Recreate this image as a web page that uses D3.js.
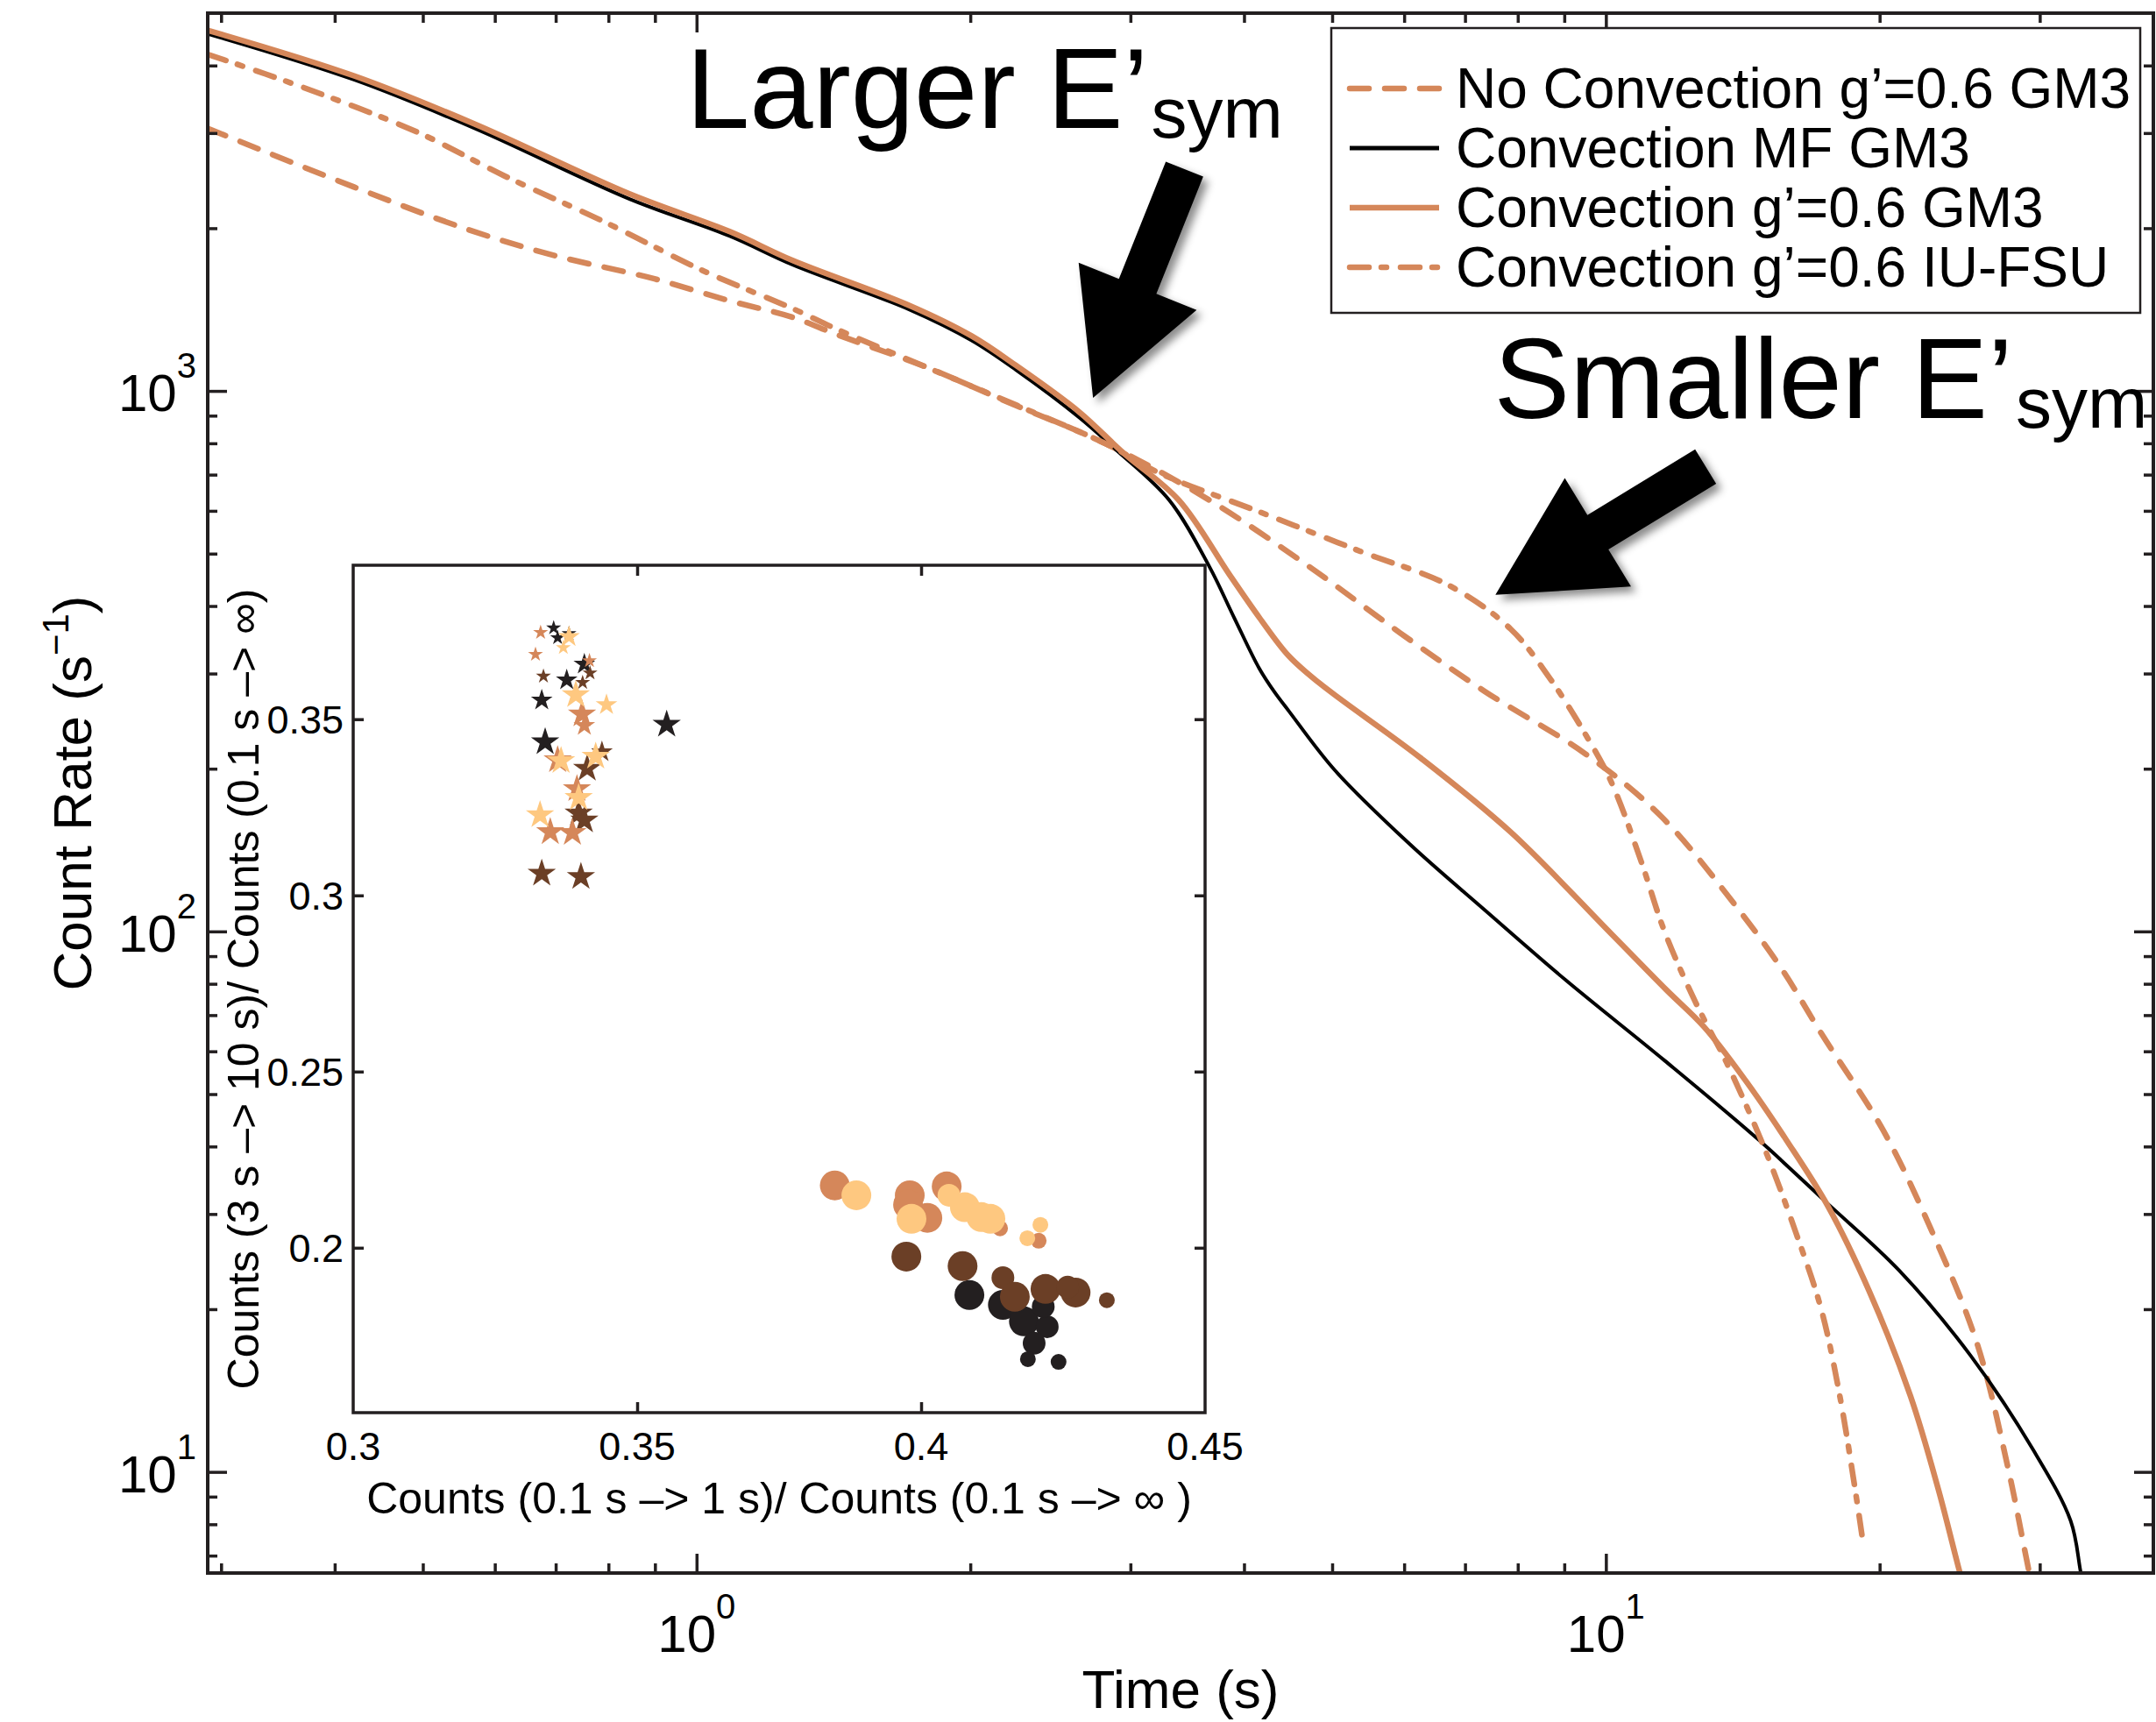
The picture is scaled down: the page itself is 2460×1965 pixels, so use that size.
<!DOCTYPE html>
<html>
<head>
<meta charset="utf-8">
<script src="https://cdn.jsdelivr.net/npm/d3@7"></script>
<style>
  body { margin: 0; background: #fff; }
  svg { display: block; }
  text { font-family: "Liberation Sans", Arial, Helvetica, sans-serif; fill: #000; }
</style>
</head>
<body>
<svg id="chart" width="2460" height="1965"></svg>
<script>
// ---------------- Light curves (time in s, count rate in 1/s) ----------------
const tNoConv = [0.29, 0.42, 0.562, 0.6965, 0.899, 1.088, 1.276, 1.429, 1.791, 2.201, 2.84, 3.664, 4.718, 5.94, 7.364, 9.504, 11.5, 13.91, 15.61, 17.25, 20.19, 22.76, 25.59, 27.72, 29.17, 29.6];
const rateNoConv = [3061, 2384, 1986, 1782, 1612, 1468, 1368, 1270, 1106, 953, 793.6, 628, 473, 356.6, 277.8, 212.8, 163.3, 111.2, 85.2, 64.8, 42.8, 28.2, 17.3, 10.07, 6.59, 5.9];

const tConvMF = [0.29, 0.42, 0.57, 0.844, 1.088, 1.276, 1.713, 2.005, 2.245, 2.634, 2.891, 3.31, 3.664, 3.9, 4.157, 4.317, 4.482, 5.03, 6.086, 7.364, 9.03, 11.6, 14.71, 17.52, 21.01, 25.19, 29.49, 32.44, 33.24, 33.6];
const rateConvMF = [4578, 3765, 3061, 2265, 1934, 1711, 1415, 1241, 1094, 894, 779, 628, 473, 381, 306.6, 277.8, 255.5, 199, 145, 109.4, 81.3, 57.7, 41.2, 31.4, 23.6, 16.4, 11.0, 8.12, 6.59, 5.9];

const tConvGM3 = [0.29, 0.42, 0.57, 0.844, 1.088, 1.276, 1.713, 2.005, 2.245, 2.634, 2.949, 3.391, 3.856, 4.157, 4.482, 4.845, 6.25, 7.856, 10.13, 11.65, 12.83, 14.24, 15.81, 17.55, 19.48, 21.63, 23.2, 24.43, 24.9];
const rateConvGM3 = [4648, 3828, 3118, 2314, 1971, 1743, 1440, 1265, 1115, 915, 767, 628, 457, 381, 323, 287.7, 209.6, 152.7, 99.1, 78, 66.5, 53, 41, 31, 21.6, 13.8, 9.3, 6.64, 5.9];

const tConvIUFSU = [0.29, 0.3688, 0.4947, 0.6141, 0.7923, 1.018, 1.276, 1.429, 1.791, 2.245, 2.84, 3.223, 4.157, 5.364, 6.742, 7.856, 8.698, 9.504, 10.13, 10.93, 11.6, 12.57, 13.58, 14.94, 16.18, 17.25, 18.07, 18.81, 19.19];
const rateConvIUFSU = [4195, 3647, 3004, 2502, 2054, 1667, 1420, 1299, 1106, 942, 793.6, 705.7, 597.6, 505.3, 435.5, 362.7, 292.2, 231, 189.5, 135, 100, 73.5, 57.1, 39.7, 27.7, 20.0, 13.9, 9.21, 7.34];

const seriesNames = ["No Convection g\u2019=0.6 GM3", "Convection MF GM3", "Convection g\u2019=0.6 GM3", "Convection g\u2019=0.6 IU-FSU"];
const seriesTimes = [tNoConv, tConvMF, tConvGM3, tConvIUFSU];
const seriesRates = [rateNoConv, rateConvMF, rateConvGM3, rateConvIUFSU];

// Axis limits and ticks
const timeDomain = [0.29, 40];
const rateDomain = [6.5, 5000];
const timeMajor = [1, 10];
const timeMinor = [0.3, 0.4, 0.5, 0.6, 0.7, 0.8, 0.9, 2, 3, 4, 5, 6, 7, 8, 9, 20, 30];
const rateMajor = [10, 100, 1000];
const rateMinor = [7, 8, 9, 20, 30, 40, 50, 60, 70, 80, 90, 200, 300, 400, 500, 600, 700, 800, 900, 2000, 3000, 4000];

// ---------------- Inset: early vs late count fractions ----------------
const starEarly = [0.3330, 0.3353, 0.3360, 0.3380, 0.3380, 0.3370, 0.3321, 0.3335, 0.3376, 0.3407, 0.3416, 0.3417, 0.3404, 0.3332, 0.3392, 0.3446, 0.3403, 0.3407, 0.3552, 0.3338, 0.3360, 0.3366, 0.3438, 0.3427, 0.3412, 0.3394, 0.3397, 0.3397, 0.3407, 0.3329, 0.3347, 0.3386, 0.3332, 0.3401];
const starLate = [0.3746, 0.3759, 0.3731, 0.3743, 0.3734, 0.3703, 0.3684, 0.3622, 0.3611, 0.3656, 0.3666, 0.3631, 0.3604, 0.3554, 0.3569, 0.3541, 0.3514, 0.3482, 0.3485, 0.3435, 0.3384, 0.3382, 0.3407, 0.3394, 0.3360, 0.3302, 0.3277, 0.3233, 0.3213, 0.3228, 0.3180, 0.3178, 0.3062, 0.3053];
const starGroup = [2, 0, 0, 0, 3, 3, 2, 1, 0, 0, 2, 1, 1, 0, 3, 3, 2, 2, 0, 0, 2, 3, 1, 3, 1, 2, 3, 1, 1, 3, 2, 2, 1, 1];
const starClass = [1, 1, 1, 1, 2, 1, 1, 1, 2, 2, 1, 1, 1, 2, 3, 2, 3, 2, 3, 3, 3, 3, 2, 3, 3, 3, 3, 3, 3, 3, 3, 3, 3, 3];

const dotEarly = [0.3848, 0.3886, 0.3980, 0.3977, 0.3983, 0.4011, 0.4045, 0.4049, 0.4077, 0.4106, 0.4122, 0.4139, 0.4210, 0.4187, 0.4207, 0.3974, 0.4073, 0.4085, 0.4144, 0.4144, 0.4165, 0.4181, 0.4222, 0.4219, 0.4215, 0.4272, 0.4258, 0.4327, 0.4199, 0.4188, 0.4242];
const dotLate = [0.2177, 0.2149, 0.2149, 0.2122, 0.2082, 0.2085, 0.2174, 0.2149, 0.2115, 0.2087, 0.2082, 0.2055, 0.2065, 0.2027, 0.2020, 0.1975, 0.1948, 0.1866, 0.1915, 0.1838, 0.1861, 0.1791, 0.1776, 0.1883, 0.1833, 0.1873, 0.1888, 0.1851, 0.1729, 0.1684, 0.1676];
const dotGroup = [2, 3, 2, 2, 3, 2, 2, 3, 3, 3, 3, 2, 3, 3, 2, 1, 1, 0, 1, 0, 1, 0, 0, 1, 0, 1, 1, 1, 0, 0, 0];
const dotClass = [3, 3, 3, 3, 3, 3, 3, 2, 3, 3, 3, 1, 1, 1, 1, 3, 3, 3, 2, 3, 3, 3, 2, 3, 2, 3, 2, 1, 2, 1, 1];

const insetEarlyDomain = [0.3, 0.45];
const insetLateDomain = [0.1532, 0.3937];
const insetEarlyTicks = [0.3, 0.35, 0.4, 0.45];
const insetLateTicks = [0.2, 0.25, 0.3, 0.35];

// Annotation anchors (time, rate)
const noteText = ["Larger E\u2019", "Smaller E\u2019"];
const noteAnchor = [[0.974, 3061], [7.53, 891]];
const arrowTip = [[2.729, 971], [7.56, 419.5]];
const arrowAngle = [-68.2, -31.4];

// ---------------- Styles ----------------
const ORANGE = "#d5875a";
const groupColor = ["#231f20", "#6b3f26", "#d5875a", "#fec880"];
const seriesColor = [ORANGE, "#000000", ORANGE, ORANGE];
const seriesWidth = [6.5, 4, 6.5, 6.5];
const seriesDash = ["22,18", null, null, "22,14,6,16"];
const drawOrder = [0, 1, 2, 3];

const svg = d3.select("#chart");
const plot = { left: 237, right: 2457, top: 15, bottom: 1795 };
const x = d3.scaleLog().domain(timeDomain).range([plot.left, plot.right]);
const y = d3.scaleLog().domain(rateDomain).range([plot.bottom, plot.top]);

const defs = svg.append("defs");
defs.append("clipPath").attr("id", "plotClip")
  .append("rect").attr("x", plot.left).attr("y", plot.top)
  .attr("width", plot.right - plot.left).attr("height", plot.bottom - plot.top);
const shadow = defs.append("filter").attr("id", "arrowShadow")
  .attr("x", "-30%").attr("y", "-30%").attr("width", "160%").attr("height", "160%");
shadow.append("feDropShadow").attr("dx", 6).attr("dy", 6).attr("stdDeviation", 5)
  .attr("flood-color", "#000").attr("flood-opacity", 0.45);

// ---------------- Curves ----------------
const line = d3.line().x(d => x(d[0])).y(d => y(d[1])).curve(d3.curveCatmullRom.alpha(0.5));
const curves = svg.append("g").attr("clip-path", "url(#plotClip)");
drawOrder.forEach(i => {
  const pts = seriesTimes[i].map((t, k) => [t, seriesRates[i][k]]);
  curves.append("path").datum(pts)
    .attr("d", line)
    .attr("fill", "none")
    .attr("stroke", seriesColor[i])
    .attr("stroke-width", seriesWidth[i])
    .attr("stroke-linecap", seriesDash[i] ? "round" : "butt")
    .attr("stroke-linejoin", "round")
    .attr("stroke-dasharray", seriesDash[i]);
});

// ---------------- Main axes ----------------
const AX = "#231f20";
function styleTicks(g) {
  g.select(".domain").remove();
  g.selectAll(".tick line").attr("stroke", AX).attr("stroke-width", 3.5);
}
const axes = svg.append("g");
[[d3.axisBottom, `translate(0,${plot.bottom})`, x], [d3.axisTop, `translate(0,${plot.top})`, x],
 [d3.axisLeft, `translate(${plot.left},0)`, y], [d3.axisRight, `translate(${plot.right},0)`, y]]
  .forEach(([gen, tr, sc]) => {
    const isX = sc === x;
    axes.append("g").attr("transform", tr)
      .call(gen(sc).tickValues(isX ? timeMajor : rateMajor).tickSize(-22).tickFormat(""))
      .call(styleTicks);
    axes.append("g").attr("transform", tr)
      .call(gen(sc).tickValues(isX ? timeMinor : rateMinor).tickSize(-11).tickFormat(""))
      .call(styleTicks);
  });
axes.append("rect")
  .attr("x", plot.left).attr("y", plot.top)
  .attr("width", plot.right - plot.left).attr("height", plot.bottom - plot.top)
  .attr("fill", "none").attr("stroke", AX).attr("stroke-width", 4);

// power-of-ten labels
timeMajor.forEach(v => {
  const t = axes.append("text").attr("x", x(v)).attr("y", 1885)
    .attr("text-anchor", "middle").attr("font-size", 60);
  t.append("tspan").text("10");
  t.append("tspan").attr("font-size", 40).attr("dy", -38).text(Math.round(Math.log10(v)));
});
rateMajor.forEach(v => {
  const t = axes.append("text").attr("x", 224).attr("y", y(v) + 23)
    .attr("text-anchor", "end").attr("font-size", 60);
  t.append("tspan").text("10");
  t.append("tspan").attr("font-size", 40).attr("dy", -38).text(Math.round(Math.log10(v)));
});

axes.append("text").attr("x", (plot.left + plot.right) / 2).attr("y", 1949)
  .attr("text-anchor", "middle").attr("font-size", 62).text("Time (s)");
const yl = axes.append("text")
  .attr("transform", `translate(104,${(plot.top + plot.bottom) / 2}) rotate(-90)`)
  .attr("text-anchor", "middle").attr("font-size", 62);
yl.append("tspan").text("Count Rate (s");
yl.append("tspan").attr("font-size", 42).attr("dy", -26).text("\u22121");
yl.append("tspan").attr("dy", 26).text(")");

// ---------------- Legend ----------------
const legend = svg.append("g");
legend.append("rect").attr("x", 1519).attr("y", 32).attr("width", 923).attr("height", 325)
  .attr("fill", "#fff").attr("stroke", AX).attr("stroke-width", 2.5);
seriesNames.forEach((name, i) => {
  const cy = 101 + i * 68;
  legend.append("line").attr("x1", 1540).attr("x2", 1642).attr("y1", cy).attr("y2", cy)
    .attr("stroke", seriesColor[i]).attr("stroke-width", seriesWidth[i] + (i === 1 ? 1 : 0))
    .attr("stroke-linecap", seriesDash[i] ? "round" : "butt")
    .attr("stroke-dasharray", seriesDash[i]);
  legend.append("text").attr("x", 1661).attr("y", cy + 22).attr("font-size", 64).text(name);
});

// ---------------- Annotations ----------------
const notes = svg.append("g");
noteText.forEach((txt, i) => {
  const t = notes.append("text").attr("x", x(noteAnchor[i][0])).attr("y", y(noteAnchor[i][1]))
    .attr("font-size", 130);
  t.append("tspan").text(txt);
  t.append("tspan").attr("font-size", 82).attr("dx", 3).attr("dy", 11).text("sym");
});
const ARROW = { length: 281, shaft: 46, headLength: 137, headWidth: 145 };
arrowTip.forEach((tip, i) => {
  const px = x(tip[0]), py = y(tip[1]);
  const a = arrowAngle[i] * Math.PI / 180;
  const ux = Math.cos(a), uy = Math.sin(a), nx = -uy, ny = ux;
  const P = (along, across) => [px + ux * along + nx * across, py + uy * along + ny * across];
  const pts = [P(0, 0), P(ARROW.headLength, ARROW.headWidth / 2), P(ARROW.headLength, ARROW.shaft / 2),
    P(ARROW.length, ARROW.shaft / 2), P(ARROW.length, -ARROW.shaft / 2),
    P(ARROW.headLength, -ARROW.shaft / 2), P(ARROW.headLength, -ARROW.headWidth / 2)];
  notes.append("path").attr("d", d3.line()(pts) + "Z")
    .attr("fill", "#000").attr("filter", "url(#arrowShadow)");
});

// ---------------- Inset ----------------
const inset = { left: 403, right: 1375, top: 645, bottom: 1612 };
const xi = d3.scaleLinear().domain(insetEarlyDomain).range([inset.left, inset.right]);
const yi = d3.scaleLinear().domain(insetLateDomain).range([inset.bottom, inset.top]);
const ig = svg.append("g");
ig.append("rect").attr("x", inset.left).attr("y", inset.top)
  .attr("width", inset.right - inset.left).attr("height", inset.bottom - inset.top)
  .attr("fill", "#fff");

const markerRadius = d3.scaleOrdinal().domain([1, 2, 3]).range([9, 13, 17]);
const starSym = d3.symbol().type(d3.symbolStar);
const circSym = d3.symbol().type(d3.symbolCircle);
const marks = ig.append("g");
[0, 1, 2, 3].forEach(g => {
  starEarly.forEach((e, k) => {
    if (starGroup[k] !== g) return;
    const r = markerRadius(starClass[k]);
    marks.append("path")
      .attr("transform", `translate(${xi(e)},${yi(starLate[k])})`)
      .attr("d", starSym.size(r * r / 0.8908130915292852)())
      .attr("fill", groupColor[g]);
  });
});
[0, 1, 2, 3].forEach(g => {
  dotEarly.forEach((e, k) => {
    if (dotGroup[k] !== g) return;
    const r = markerRadius(dotClass[k]);
    marks.append("path")
      .attr("transform", `translate(${xi(e)},${yi(dotLate[k])})`)
      .attr("d", circSym.size(Math.PI * r * r)())
      .attr("fill", groupColor[g]);
  });
});

const innerX = insetEarlyTicks.slice(1, -1);
[[d3.axisBottom, `translate(0,${inset.bottom})`, xi, innerX], [d3.axisTop, `translate(0,${inset.top})`, xi, innerX],
 [d3.axisLeft, `translate(${inset.left},0)`, yi, insetLateTicks], [d3.axisRight, `translate(${inset.right},0)`, yi, insetLateTicks]]
  .forEach(([gen, tr, sc, vals]) => {
    ig.append("g").attr("transform", tr)
      .call(gen(sc).tickValues(vals).tickSize(-12).tickFormat(""))
      .call(styleTicks);
  });
ig.append("rect").attr("x", inset.left).attr("y", inset.top)
  .attr("width", inset.right - inset.left).attr("height", inset.bottom - inset.top)
  .attr("fill", "none").attr("stroke", AX).attr("stroke-width", 3.5);

insetEarlyTicks.forEach(v => {
  ig.append("text").attr("x", xi(v)).attr("y", 1666).attr("text-anchor", "middle")
    .attr("font-size", 45).text(d3.format("")(v));
});
insetLateTicks.forEach(v => {
  ig.append("text").attr("x", 392).attr("y", yi(v) + 16).attr("text-anchor", "end")
    .attr("font-size", 45).text(d3.format("")(v));
});
ig.append("text").attr("x", (inset.left + inset.right) / 2).attr("y", 1727)
  .attr("text-anchor", "middle").attr("font-size", 50)
  .text("Counts (0.1 s \u2013> 1 s)/ Counts (0.1 s \u2013> \u221E )");
ig.append("text")
  .attr("transform", `translate(295,${(inset.top + inset.bottom) / 2}) rotate(-90)`)
  .attr("text-anchor", "middle").attr("font-size", 50)
  .text("Counts (3 s \u2013> 10 s)/ Counts (0.1 s \u2013> \u221E)");
</script>
</body>
</html>
